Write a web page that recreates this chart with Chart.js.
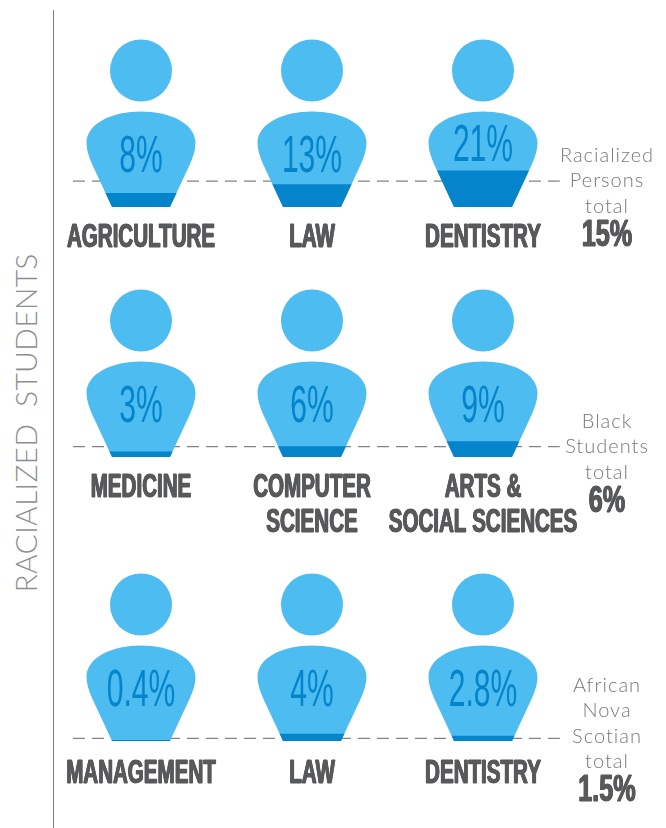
<!DOCTYPE html>
<html>
<head>
<meta charset="utf-8">
<style>
html,body{margin:0;padding:0;background:#fff;width:666px;height:828px;overflow:hidden}
canvas{position:absolute;left:0}
#rule{position:absolute;left:53px;top:10px;width:1.4px;height:818px;background:#7d7f82}
#ytitle{position:absolute;left:24.5px;top:422.5px;transform:translate(-50%,-50%) rotate(-90deg);white-space:pre;font:300 30px Lato,sans-serif;letter-spacing:0.25px;color:#8c8e91}
</style>
<script src="https://cdn.jsdelivr.net/npm/chart.js@4/dist/chart.umd.min.js"></script>
</head>
<body>
<div id="rule"></div>
<div id="ytitle">RACIALIZED  STUDENTS</div>
<canvas id="r1"></canvas><canvas id="r2"></canvas><canvas id="r3"></canvas>
<script>
const row1Categories=["AGRICULTURE","LAW","DENTISTRY"];
const row1Values=[8,13,21];
const row1Total=15;
const row1Caption=["Racialized","Persons","total"];
const row2Categories=["MEDICINE",["COMPUTER","SCIENCE"],["ARTS &","SOCIAL SCIENCES"]];
const row2Values=[3,6,9];
const row2Total=6;
const row2Caption=["Black","Students","total"];
const row3Categories=["MANAGEMENT","LAW","DENTISTRY"];
const row3Values=[0.4,4,2.8];
const row3Total=1.5;
const row3Caption=["African","Nova","Scotian","total"];

const LIGHT="#4dbcf0",DARK="#0484cb",INK="#58595b",SOFT="#77787b";
const HEAVY='bold 34px "Liberation Sans Narrow","Liberation Sans",sans-serif';
const THIN='51px "Liberation Sans Narrow","Liberation Sans",sans-serif';

function bodyPath(ctx,cx,b){
  ctx.moveTo(cx-29,b);
  ctx.lineTo(cx-49,b-43);
  ctx.bezierCurveTo(cx-52,b-50,cx-54.5,b-57,cx-54.5,b-64);
  ctx.bezierCurveTo(cx-54.5,b-84,cx-28,b-95.5,cx,b-95.5);
  ctx.bezierCurveTo(cx+28,b-95.5,cx+54.5,b-84,cx+54.5,b-64);
  ctx.bezierCurveTo(cx+54.5,b-57,cx+52,b-50,cx+49,b-43);
  ctx.lineTo(cx+29,b);
  ctx.closePath();
}
function squeezed(ctx,text,x,y,font,sx,color,stroke,spread){
  ctx.save();
  ctx.translate(x,y);ctx.scale(sx,1);
  ctx.font=font;ctx.textAlign="center";ctx.textBaseline="middle";ctx.fillStyle=color;
  ctx.fillText(text,0,0);
  if(spread){ctx.fillText(text,-spread,0);ctx.fillText(text,spread,0);}
  if(stroke){ctx.strokeStyle=color;ctx.lineWidth=stroke;ctx.lineJoin="round";ctx.strokeText(text,0,0);}
  ctx.restore();
}
const figures={
  id:"figures",
  beforeDatasetDraw(chart,args){
    if(chart.data.datasets[args.index].type!=="bar")return;
    const {ctx,scales:{x,y}}=chart,b=y.getPixelForValue(0);
    ctx.save();
    ctx.fillStyle=LIGHT;
    ctx.beginPath();
    x.ticks.forEach((t,i)=>{
      const cx=x.getPixelForTick(i);
      ctx.moveTo(cx+31,b-136.5);
      ctx.arc(cx,b-136.5,31,0,Math.PI*2);
      bodyPath(ctx,cx,b);
    });
    ctx.fill();
    ctx.beginPath();
    x.ticks.forEach((t,i)=>bodyPath(ctx,x.getPixelForTick(i),b));
    ctx.clip();
  },
  afterDatasetDraw(chart,args){
    if(chart.data.datasets[args.index].type!=="bar")return;
    chart.ctx.restore();
  },
  afterDatasetsDraw(chart,args,opts){
    const {ctx,scales:{x,y}}=chart,b=y.getPixelForValue(0);
    const vals=chart.data.datasets.find(d=>d.type==="bar").data;
    chart.data.labels.forEach((lab,i)=>{
      const cx=x.getPixelForTick(i),top=y.getPixelForValue(vals[i]);
      squeezed(ctx,vals[i]+"%",cx,Math.min(b-49,top-24),THIN,0.59,DARK);
      [].concat(lab).forEach((line,k)=>squeezed(ctx,line,cx,b+opts.labelGap+k*35,HEAVY,0.605,INK,0.9,0.8));
    });
    ctx.save();
    ctx.font='300 20px Lato,sans-serif';ctx.letterSpacing="1px";
    ctx.textAlign="center";ctx.textBaseline="middle";ctx.fillStyle=SOFT;
    opts.caption.forEach((line,k)=>ctx.fillText(line,607,b+opts.captionTop+k*25.5));
    ctx.restore();
    squeezed(ctx,opts.total+"%",607,b+opts.captionTop+opts.caption.length*25.5+4,'bold 36px "Liberation Sans Narrow","Liberation Sans",sans-serif',0.7,INK,0.9,0.8);
  }
};
function makeRow(id,top,height,labels,values,total,caption,labelGap,captionTop){
  const el=document.getElementById(id);
  el.style.top=top+"px";el.width=666;el.height=height;
  return new Chart(el,{
    data:{labels,datasets:[
      {type:"line",order:2,xAxisID:"x2",data:[{x:0.034,y:total},{x:0.983,y:total}],borderColor:"#808285",borderWidth:1.3,borderDash:[12,7],pointRadius:0,clip:false},
      {type:"bar",order:1,grouped:false,data:values,backgroundColor:DARK,barThickness:124}
    ]},
    options:{
      responsive:false,animation:false,events:[],
      layout:{padding:{left:55.5,right:97.5,top:35,bottom:height-207}},
      scales:{
        x:{display:false,type:"category",grid:{display:false}},
        x2:{display:false,type:"linear",min:0,max:1},
        y:{display:false,min:0,max:100}
      },
      plugins:{legend:{display:false},tooltip:{enabled:false},
        figures:{total,caption,labelGap,captionTop}}
    },
    plugins:[figures]
  });
}
makeRow("r1",0,260,row1Categories,row1Values,row1Total,row1Caption,31,-51.5);
makeRow("r2",250,300,row2Categories,row2Values,row2Total,row2Caption,31,-35.5);
makeRow("r3",534,294,row3Categories,row3Values,row3Total,row3Caption,33,-55.5);
</script>
</body>
</html>
